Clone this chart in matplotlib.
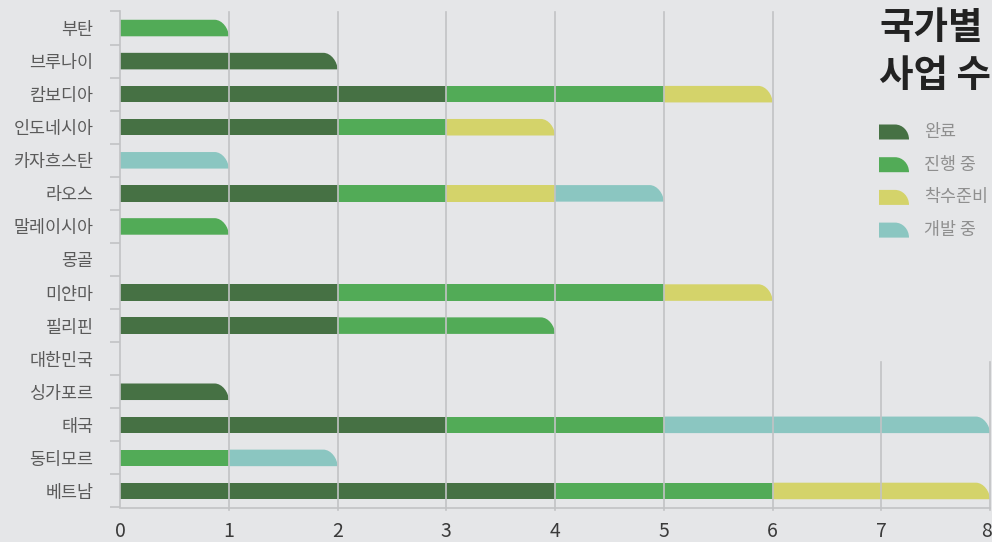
import numpy as np
import matplotlib
matplotlib.use("Agg")
import matplotlib.pyplot as plt
import matplotlib.transforms as mtransforms
from matplotlib.path import Path
from matplotlib.patches import PathPatch
from matplotlib.ticker import FixedLocator

plt.rcParams['font.family'] = ['Noto Sans CJK KR', 'DejaVu Sans']

countries = ['부탄', '브루나이', '캄보디아', '인도네시아', '카자흐스탄', '라오스',
             '말레이시아', '몽골', '미얀마', '필리핀', '대한민국', '싱가포르',
             '태국', '동티모르', '베트남']
done = [0, 2, 3, 2, 0, 2, 0, 0, 2, 2, 0, 1, 3, 0, 4]
ongoing = [1, 0, 2, 1, 0, 1, 1, 0, 3, 2, 0, 0, 2, 1, 2]
prep = [0, 0, 1, 1, 0, 1, 0, 0, 1, 0, 0, 0, 0, 0, 2]
dev = [0, 0, 0, 0, 1, 1, 0, 0, 0, 0, 0, 0, 3, 1, 0]

status = ['완료', '진행 중', '착수준비', '개발 중']
colors = ['#467144', '#52ab57', '#d4d36a', '#8bc6c1']
series = [done, ongoing, prep, dev]

bg = '#e5e6e8'
grid_c = '#c2c3c5'


def rounded_path(x0, x1, ytop, ybot, rx):
    # bar with the top right corner rounded (quarter ellipse down to the bottom)
    k = 0.5523
    ry = ybot - ytop
    verts = [(x0, ybot), (x0, ytop), (x1 - rx, ytop),
             (x1 - rx + k * rx, ytop), (x1, ybot - ry + k * ry), (x1, ybot),
             (x0, ybot)]
    codes = [Path.MOVETO, Path.LINETO, Path.LINETO,
             Path.CURVE4, Path.CURVE4, Path.CURVE4, Path.CLOSEPOLY]
    return Path(verts, codes)


fig = plt.figure(figsize=(9.92, 5.42), dpi=100, facecolor=bg)
ax = fig.add_axes([120 / 992, 1 - 507.5 / 542, 870 / 992, 496 / 542])
ax.set_facecolor(bg)

y = np.arange(len(countries))
h = 0.5
rx = 0.13

left = np.zeros(len(countries))
totals = np.sum(series, axis=0)
for vals, col in zip(series, colors):
    vals = np.array(vals, dtype=float)
    for i in range(len(countries)):
        if vals[i] == 0:
            continue
        x0, x1 = left[i], left[i] + vals[i]
        if x1 == totals[i]:
            p = PathPatch(rounded_path(x0, x1, y[i] - h / 2, y[i] + h / 2, rx),
                          facecolor=col, edgecolor='none', zorder=2)
            ax.add_patch(p)
        else:
            ax.barh(y[i], vals[i], left=x0, height=h, color=col, zorder=2)
    left += vals

ax.set_xlim(0, 8)
ax.set_ylim(len(countries) - 0.5, -0.5)

# grid on top of bars; 7 and 8 stop under the title block
for gx in range(1, 9):
    top = 1.0 if gx <= 6 else 0.293
    ax.axvline(gx, ymin=-0.005, ymax=top, color=grid_c, lw=1.2, zorder=3,
               clip_on=False)

ax.set_xticks(range(0, 9))
ax.tick_params(axis='x', length=0, pad=10, labelsize=14, labelcolor='#3a3a3a')
last = ax.get_xticklabels()[-1]
last.set_transform(last.get_transform() +
                   mtransforms.ScaledTranslation(-4 / 100, 0, fig.dpi_scale_trans))

ax.set_yticks(y)
ax.set_yticklabels(countries)
ax.tick_params(axis='y', which='major', length=0, pad=19, labelsize=12.5,
               labelcolor='#5a5a5a')
ax.yaxis.set_minor_locator(FixedLocator(np.arange(-0.5, len(countries), 1)))
ax.tick_params(axis='y', which='minor', length=7, width=1.2, color=grid_c)

for s in ['top', 'right']:
    ax.spines[s].set_visible(False)
for s in ['left', 'bottom']:
    ax.spines[s].set_color(grid_c)
    ax.spines[s].set_linewidth(1.2)
    ax.spines[s].set_zorder(3)

# title
fig.text(879 / 992, 1 - 27 / 542, '국가별', fontsize=27, fontweight='bold',
         color='#222222', va='center', ha='left')
fig.text(879 / 992, 1 - 76 / 542, '사업 수', fontsize=27, fontweight='bold',
         color='#222222', va='center', ha='left')

# legend
W, H = fig.bbox.width, fig.bbox.height
k = 0.5523
for j, (lab, col) in enumerate(zip(status, colors)):
    cy = 132 + j * 32.7
    ytop = 1 - (cy - 7.5) / H
    ybot = 1 - (cy + 7.5) / H
    x0, x1, rxf = 879 / W, 909 / W, 14 / W
    ry = ytop - ybot
    verts = [(x0, ybot), (x0, ytop), (x1 - rxf, ytop),
             (x1 - rxf + k * rxf, ytop), (x1, ytop - ry + k * ry), (x1, ybot),
             (x0, ybot)]
    codes = [Path.MOVETO, Path.LINETO, Path.LINETO,
             Path.CURVE4, Path.CURVE4, Path.CURVE4, Path.CLOSEPOLY]
    fig.add_artist(PathPatch(Path(verts, codes), facecolor=col, edgecolor='none',
                             transform=fig.transFigure))
    fig.text(924 / W, 1 - cy / H, lab, fontsize=12.5, color='#8f8f8f',
             va='center', ha='left')

fig.savefig('out.png', dpi=100, facecolor=bg)
